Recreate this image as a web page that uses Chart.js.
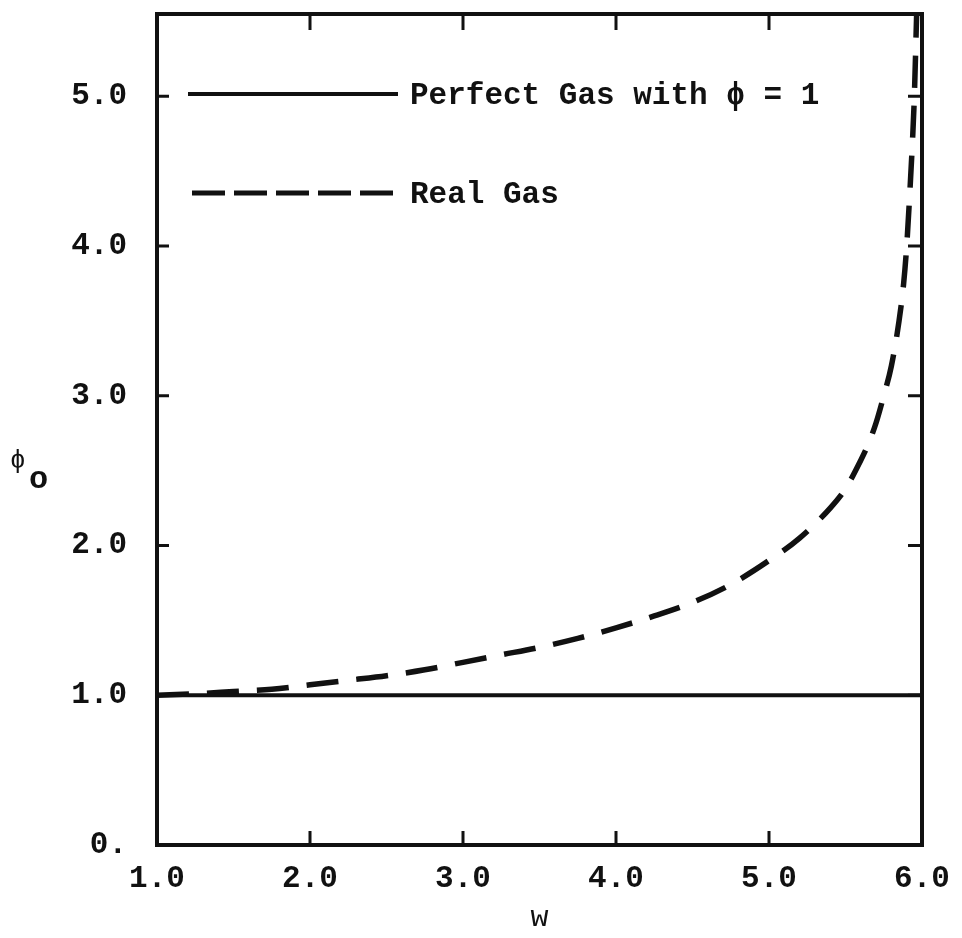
<!DOCTYPE html>
<html>
<head>
<meta charset="utf-8">
<script src="https://cdn.jsdelivr.net/npm/chart.js@4.4.1/dist/chart.umd.min.js"></script>
<style>
  body { margin: 0; background: #fff; }
  #wrap { width: 962px; height: 938px; }
</style>
</head>
<body>
<div id="wrap"><canvas id="chart"></canvas></div>
<script>
// values
const wValues = [1.0, 1.25, 1.5, 1.75, 2.0, 2.25, 2.5, 2.75, 3.0, 3.25, 3.5, 3.75, 4.0, 4.25, 4.5, 4.75, 5.0, 5.2, 5.4, 5.5, 5.6, 5.65, 5.7, 5.75, 5.8, 5.85, 5.88, 5.9, 5.92, 5.94, 5.95, 5.965];
const realGas = [1.0, 1.01, 1.025, 1.04, 1.07, 1.1, 1.13, 1.17, 1.22, 1.27, 1.32, 1.38, 1.45, 1.53, 1.62, 1.74, 1.9, 2.05, 2.25, 2.38, 2.57, 2.68, 2.82, 3.0, 3.2, 3.5, 3.75, 4.0, 4.35, 4.75, 5.0, 5.55];
const perfectW = [1.0, 6.0];
const perfectGas = [1.0, 1.0];
const xTicks = [1, 2, 3, 4, 5, 6];
const yTicks = [0, 1, 2, 3, 4, 5];
const legendLabels = ['Perfect Gas with \u03d5 = 1', 'Real Gas'];

const ink = '#111';
const mono = "'Liberation Mono', 'DejaVu Sans Mono', monospace";

function toPoints(xs, ys) {
    return xs.map((x, i) => ({ x: x, y: ys[i] }));
}

// frame, inward tick marks, legend and the phi_o title
const decorations = {
    id: 'decorations',
    afterDatasetsDraw(chart) {
        const ctx = chart.ctx;
        const a = chart.chartArea;
        const xs = chart.scales.x;
        const ys = chart.scales.y;
        ctx.save();
        ctx.strokeStyle = ink;
        ctx.lineWidth = 4;
        ctx.setLineDash([]);
        ctx.strokeRect(a.left, a.top, a.right - a.left, a.bottom - a.top);

        ctx.lineWidth = 3;
        xTicks.slice(1, -1).forEach(v => {
            const px = xs.getPixelForValue(v);
            ctx.beginPath();
            ctx.moveTo(px, a.bottom); ctx.lineTo(px, a.bottom - 14);
            ctx.moveTo(px, a.top); ctx.lineTo(px, a.top + 16);
            ctx.stroke();
        });
        yTicks.slice(1).forEach(v => {
            const py = ys.getPixelForValue(v);
            ctx.beginPath();
            ctx.moveTo(a.left, py); ctx.lineTo(a.left + 12, py);
            ctx.moveTo(a.right, py); ctx.lineTo(a.right - 14, py);
            ctx.stroke();
        });

        // legend
        const lx0 = a.left + 31, lx1 = a.left + 241;
        const rows = [a.top + 80, a.top + 179];
        ctx.lineWidth = 4;
        ctx.beginPath();
        ctx.moveTo(lx0, rows[0]); ctx.lineTo(lx1, rows[0]);
        ctx.stroke();
        ctx.lineWidth = 5;
        ctx.setLineDash([33, 9]);
        ctx.beginPath();
        ctx.moveTo(lx0 + 4, rows[1]); ctx.lineTo(lx1, rows[1]);
        ctx.stroke();
        ctx.setLineDash([]);
        ctx.fillStyle = ink;
        ctx.font = 'bold 31px ' + mono;
        ctx.textBaseline = 'middle';
        ctx.textAlign = 'left';
        ctx.fillText(legendLabels[0], lx1 + 12, rows[0] + 2);
        ctx.fillText(legendLabels[1], lx1 + 12, rows[1] + 2);

        // y axis title: phi with subscript o
        const cy = (a.top + a.bottom) / 2;
        ctx.font = '26px ' + mono;
        ctx.fillText('\u03d5', 10, cy + 32);
        ctx.font = 'bold 32px ' + mono;
        ctx.fillText('o', 29, cy + 50);
        ctx.restore();
    }
};

new Chart(document.getElementById('chart').getContext('2d'), {
    type: 'line',
    data: {
        datasets: [
            {
                label: legendLabels[0],
                data: toPoints(perfectW, perfectGas),
                borderColor: ink,
                borderWidth: 4,
                pointRadius: 0,
                fill: false
            },
            {
                label: legendLabels[1],
                data: toPoints(wValues, realGas),
                borderColor: ink,
                borderWidth: 5.5,
                borderDash: [32, 18],
                pointRadius: 0,
                cubicInterpolationMode: 'monotone',
                fill: false
            }
        ]
    },
    options: {
        responsive: true,
        maintainAspectRatio: false,
        animation: false,
        layout: { padding: { top: 14, right: 40, left: 0, bottom: 0 } },
        plugins: {
            legend: { display: false },
            tooltip: { enabled: false }
        },
        scales: {
            x: {
                type: 'linear',
                min: 1,
                max: 6,
                grid: { display: false, drawTicks: false },
                border: { display: false },
                ticks: {
                    stepSize: 1,
                    padding: 16,
                    color: ink,
                    font: { family: mono, size: 31, weight: 'bold' },
                    callback: v => v.toFixed(1)
                },
                title: {
                    display: true,
                    text: 'w',
                    color: ink,
                    font: { family: mono, size: 30 },
                    padding: { top: 0, bottom: 2 }
                },
                afterFit(scale) {
                    scale.height = 93;
                    scale.paddingLeft = 0;
                    scale.paddingRight = 0;
                }
            },
            y: {
                type: 'linear',
                min: 0,
                max: 5.55,
                grid: { display: false, drawTicks: false },
                border: { display: false },
                ticks: {
                    stepSize: 1,
                    includeBounds: false,
                    padding: 30,
                    color: ink,
                    font: { family: mono, size: 31, weight: 'bold' },
                    callback: v => v === 0 ? '0.' : v.toFixed(1)
                },
                afterFit(scale) {
                    scale.width = 157;
                    scale.paddingTop = 0;
                    scale.paddingBottom = 0;
                }
            }
        }
    },
    plugins: [decorations]
});
</script>
</body>
</html>
